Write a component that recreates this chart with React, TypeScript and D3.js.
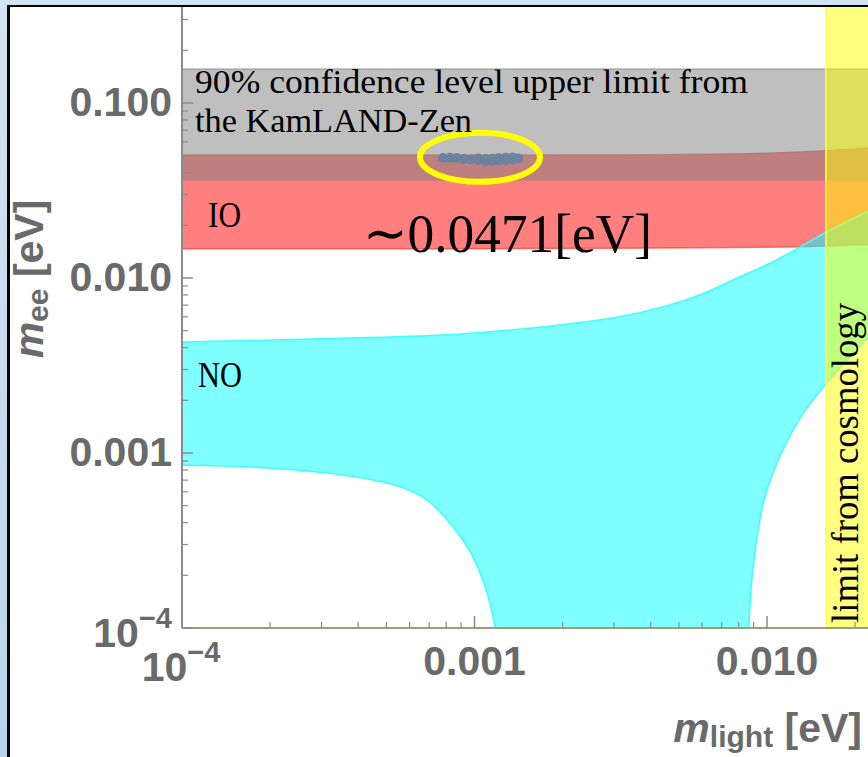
import React from "react";
import * as d3 from "d3";

type Pt = [number, number];

// bands (m_light [eV], m_ee [eV])
const kamlandRange = [0.036, 0.156];
const cosmologyLimit = 0.0159;

const ioUpper: Pt[] = [
  [1e-4, 0.0505], [1e-3, 0.0505], [3e-3, 0.0506], [6e-3, 0.051],
  [1e-2, 0.0518], [1.5e-2, 0.0532], [2.3e-2, 0.0556],
];
const ioLower: Pt[] = [
  [1e-4, 0.0147], [1e-3, 0.0147], [3e-3, 0.0148], [6e-3, 0.0149],
  [1e-2, 0.015], [1.5e-2, 0.0152], [2.3e-2, 0.0155],
];

const noUpper: Pt[] = [
  [1e-4, 0.00431], [3e-4, 0.00449], [8e-4, 0.00473], [1.5e-3, 0.00515],
  [3e-3, 0.00593], [4.5e-3, 0.0069], [6e-3, 0.0081], [8e-3, 0.0101],
  [1e-2, 0.0119], [1.25e-2, 0.0145], [1.6e-2, 0.0183], [2.3e-2, 0.0247],
];
const noLowerRight: Pt[] = [
  [2.3e-2, 0.0049], [1.58e-2, 0.00245], [1.33e-2, 0.00169], [1.12e-2, 0.001],
  [9.77e-3, 5.4e-4], [8.96e-3, 2.23e-4], [8.65e-3, 1e-4], [8.5e-3, 5e-5],
];
const noLowerLeft: Pt[] = [
  [1.2e-3, 5e-5], [1.175e-3, 1e-4], [1.077e-3, 1.81e-4], [9.72e-4, 2.68e-4],
  [8.44e-4, 3.78e-4], [6.88e-4, 5.39e-4], [5.61e-4, 6.39e-4], [3.96e-4, 7.29e-4],
  [1.99e-4, 8.21e-4], [1e-4, 8.54e-4],
];

// model points inside the yellow ellipse
const modelPoints: Pt[] = [
  [7.8e-4, 0.0485], [8.25e-4, 0.0487], [8.7e-4, 0.0485], [9.2e-4, 0.0479],
  [9.7e-4, 0.0476], [1.03e-3, 0.0472], [1.03e-3, 0.0481], [1.09e-3, 0.0466],
  [1.09e-3, 0.0478], [1.15e-3, 0.0467], [1.15e-3, 0.048], [1.21e-3, 0.0469],
  [1.21e-3, 0.0484], [1.28e-3, 0.0472], [1.28e-3, 0.0487], [1.35e-3, 0.0476],
  [1.35e-3, 0.0488], [1.41e-3, 0.0481],
];
const ellipseCenter: Pt = [1.044e-3, 0.0489];

const xTickValues = [1e-4, 1e-3, 1e-2];
const yTickValues = [1e-4, 1e-3, 1e-2, 1e-1];

const W = 868;
const H = 757;
const left = 182;
const bottom = 628;
const top = 7;

const x = d3.scaleLog().domain([1e-4, 1e-2]).range([left, 767]);
const y = d3.scaleLog().domain([1e-4, 1e-1]).range([bottom, 103]);

const line = d3
  .line<Pt>()
  .x(d => x(d[0]))
  .y(d => y(d[1]))
  .curve(d3.curveCatmullRom.alpha(0.5));

const joinPaths = (...segs: Pt[][]) =>
  segs
    .map((s, i) => {
      const p = line(s) as string;
      return i === 0 ? p : "L" + p.slice(1);
    })
    .join("") + "Z";

const fmt = d3.format(".3f");
const minorTicks = (lo: number, hi: number) => {
  const out: number[] = [];
  for (let e = lo; e <= hi; e++)
    for (let k = 2; k <= 9; k++) out.push(k * Math.pow(10, e));
  return out;
};
const xMinor = minorTicks(-4, -2).filter(v => x(v) < W);
const yMinor = minorTicks(-4, -1).filter(v => y(v) > top);

const tickFont = {
  fontFamily: "'Liberation Sans', Arial, sans-serif",
  fontWeight: "bold" as const,
  fill: "#6a6a6a",
};
const serif = { fontFamily: "'Liberation Serif', 'Times New Roman', serif", fill: "#000" };

export default function App() {
  const ioPath = joinPaths(ioUpper, ioLower.slice().reverse());
  const noPath = joinPaths(noUpper, noLowerRight, noLowerLeft);
  const xMaxData = x.invert(W + 10);

  return (
    <svg width={W} height={H} style={{ position: "absolute", left: 0, top: 0 }}>
      <defs>
        <clipPath id="plot">
          <rect x={left} y={top} width={W - left} height={bottom - top} />
        </clipPath>
        <linearGradient id="bg" x1="0" y1="0" x2="0" y2="1">
          <stop offset="0" stopColor="#d2e3f3" />
          <stop offset="1" stopColor="#b9d4ee" />
        </linearGradient>
      </defs>
      <rect width={W} height={H} fill="url(#bg)" />
      <rect x={7} y={5} width={W} height={H} fill="#000" />
      <rect x={10} y={7} width={W} height={H} fill="#fff" />

      <g clipPath="url(#plot)">
        {/* IO band */}
        <path d={ioPath} fill="rgba(255,0,0,0.5)" />
        <path d={line(ioLower) as string} fill="none" stroke="rgba(255,40,40,0.6)" strokeWidth={1.5} />
        <path d={line(ioUpper) as string} fill="none" stroke="rgba(200,60,60,0.5)" strokeWidth={1.2} />

        {/* KamLAND-Zen band */}
        <rect
          x={left}
          y={y(kamlandRange[1])}
          width={W - left}
          height={y(kamlandRange[0]) - y(kamlandRange[1])}
          fill="rgba(128,128,128,0.5)"
        />
        <line x1={left} x2={W} y1={y(kamlandRange[1])} y2={y(kamlandRange[1])} stroke="#9a9a9a" strokeWidth={1.2} />

        {/* NO band */}
        <path d={noPath} fill="rgba(0,255,255,0.5)" />
        {[noUpper, noLowerRight, noLowerLeft].map((s, i) => (
          <path key={i} d={line(s) as string} fill="none" stroke="#40ffff" strokeWidth={1.6} />
        ))}

        {/* cosmology limit */}
        <rect
          x={x(cosmologyLimit)}
          y={top}
          width={x(xMaxData) - x(cosmologyLimit)}
          height={bottom - top}
          fill="rgba(255,255,0,0.5)"
        />
        <line x1={x(cosmologyLimit)} x2={x(cosmologyLimit)} y1={top} y2={bottom} stroke="#ffff50" strokeWidth={1.5} />

        {/* model points */}
        {modelPoints.map((d, i) => (
          <circle key={i} cx={x(d[0])} cy={y(d[1])} r={5} fill="#6e819d" />
        ))}
        <ellipse
          cx={x(ellipseCenter[0])}
          cy={y(ellipseCenter[1])}
          rx={60}
          ry={24.5}
          fill="none"
          stroke="#ffff00"
          strokeWidth={6}
        />
      </g>

      {/* axes */}
      <line x1={left} x2={left} y1={top} y2={bottom} stroke="#8a8a8a" strokeWidth={2} />
      <line x1={left} x2={W} y1={bottom} y2={bottom} stroke="#9c9c7a" strokeWidth={2} />
      {yTickValues.map(v => (
        <line key={"ym" + v} x1={left} x2={left + 11} y1={y(v)} y2={y(v)} stroke="#8a8a8a" strokeWidth={1.5} />
      ))}
      {yMinor.map(v => (
        <line key={"yn" + v} x1={left} x2={left + 6} y1={y(v)} y2={y(v)} stroke="#8a8a8a" strokeWidth={1.2} />
      ))}
      {xTickValues.map(v => (
        <line key={"xm" + v} x1={x(v)} x2={x(v)} y1={bottom} y2={bottom - 12} stroke="#8a8a8a" strokeWidth={1.5} />
      ))}
      {xMinor.map(v => (
        <line key={"xn" + v} x1={x(v)} x2={x(v)} y1={bottom} y2={bottom - 6} stroke="#8a8a8a" strokeWidth={1.2} />
      ))}

      {/* tick labels */}
      {yTickValues.map(v =>
        v === 1e-4 ? (
          <text key={"yl" + v} x={172} y={y(v) + 19} textAnchor="end" fontSize={41} {...tickFont}>
            10
            <tspan dy={-19} fontSize={29}>−4</tspan>
          </text>
        ) : (
          <text key={"yl" + v} x={172} y={y(v) + 13} textAnchor="end" fontSize={41} {...tickFont}>
            {fmt(v)}
          </text>
        )
      )}
      {xTickValues.map(v =>
        v === 1e-4 ? (
          <text key={"xl" + v} x={x(v) - 1} y={681} textAnchor="middle" fontSize={41} {...tickFont}>
            10
            <tspan dy={-19} fontSize={29}>−4</tspan>
          </text>
        ) : (
          <text key={"xl" + v} x={x(v)} y={675} textAnchor="middle" fontSize={41} {...tickFont}>
            {fmt(v)}
          </text>
        )
      )}

      {/* axis titles */}
      <text x={862} y={742} textAnchor="end" fontSize={41} {...tickFont}>
        <tspan fontStyle="italic">m</tspan>
        <tspan fontSize={30} dy={5}>light</tspan>
        <tspan dy={-5}> [eV]</tspan>
      </text>
      <text transform="translate(43,279) rotate(-90)" textAnchor="middle" fontSize={41} {...tickFont}>
        <tspan fontStyle="italic">m</tspan>
        <tspan fontSize={30} dy={5}>ee</tspan>
        <tspan dy={-5}> [eV]</tspan>
      </text>

      {/* annotations */}
      <text x={195} y={93} fontSize={33} textLength={553} lengthAdjust="spacingAndGlyphs" {...serif}>
        90% confidence level upper limit from
      </text>
      <text x={195} y={132} fontSize={33} textLength={277} lengthAdjust="spacingAndGlyphs" {...serif}>
        the KamLAND-Zen
      </text>
      <text x={208} y={227} fontSize={35} textLength={33} lengthAdjust="spacingAndGlyphs" {...serif}>
        IO
      </text>
      <text x={198} y={387} fontSize={35} textLength={44} lengthAdjust="spacingAndGlyphs" {...serif}>
        NO
      </text>
      <text x={363} y={252} fontSize={55} textLength={289} lengthAdjust="spacingAndGlyphs" {...serif}>
        ∼0.0471[eV]
      </text>
      <text
        transform="translate(858,623) rotate(-90)"
        fontSize={38}
        textLength={320}
        lengthAdjust="spacingAndGlyphs"
        {...serif}
      >
        limit from cosmology
      </text>
    </svg>
  );
}
